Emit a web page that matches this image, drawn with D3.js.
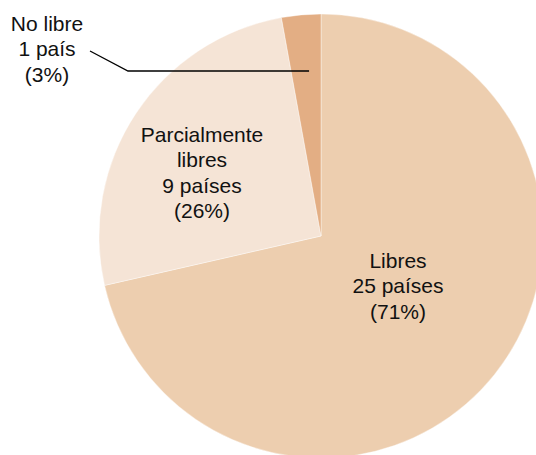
<!DOCTYPE html>
<html><head><meta charset="utf-8">
<script src="https://cdn.jsdelivr.net/npm/d3@7"></script>
<style>body{margin:0;background:#fff}svg{display:block}</style>
</head><body>
<script>
const categories = ["Libres", "Parcialmente libres", "No libre"];
const counts = [25, 9, 1];
const countLabels = ["25 países", "9 países", "1 país"];
const percentLabels = ["(71%)", "(26%)", "(3%)"];
const colors = ["#EDCEAF", "#F5E4D6", "#E3AE84"];

const W = 536, H = 455;
const cx = 321, cy = 236, R = 222;
const svg = d3.select("body").append("svg").attr("width", W).attr("height", H);
const g = svg.append("g").attr("transform", `translate(${cx},${cy})`);

const data = categories.map((c, i) => ({cat: c, value: counts[i], i}));
const pie = d3.pie().value(d => d.value).sort(null);
const arc = d3.arc().innerRadius(0).outerRadius(R);
const arcs = pie(data);

g.selectAll("path").data(arcs).join("path")
  .attr("d", arc)
  .attr("fill", d => colors[d.data.i])
  .attr("stroke", "#fff").attr("stroke-width", 0.4);

// label layout (positions relative to chart, not data)
const labelLines = [
  ["Libres", countLabels[0], percentLabels[0]],
  ["Parcialmente", "libres", countLabels[1], percentLabels[1]],
  ["No libre", countLabels[2], percentLabels[2]]
];
const labelPos = [
  {x: 398, y: 268},
  {x: 202, y: 142},
  {x: 47, y: 31}
];
const lh = 25.3;
labelLines.forEach((lines, i) => {
  const t = svg.append("text")
    .attr("x", labelPos[i].x).attr("y", labelPos[i].y)
    .attr("text-anchor", "middle")
    .attr("font-family", "Liberation Sans, Arial, sans-serif")
    .attr("font-size", 21).attr("fill", "#111");
  lines.forEach((l, j) => t.append("tspan").attr("x", labelPos[i].x).attr("y", labelPos[i].y + j * lh).text(l));
});

// leader line for "No libre"
const a = arcs[2];
const mid = (a.startAngle + a.endAngle) / 2;
const px = cx + Math.sin(mid) * (R * 0.75) + 3;
const py = 71;
svg.append("polyline")
  .attr("points", `90,51 128,71 ${px},${py}`)
  .attr("fill", "none").attr("stroke", "#000").attr("stroke-width", 1.3);
</script>
</body></html>
